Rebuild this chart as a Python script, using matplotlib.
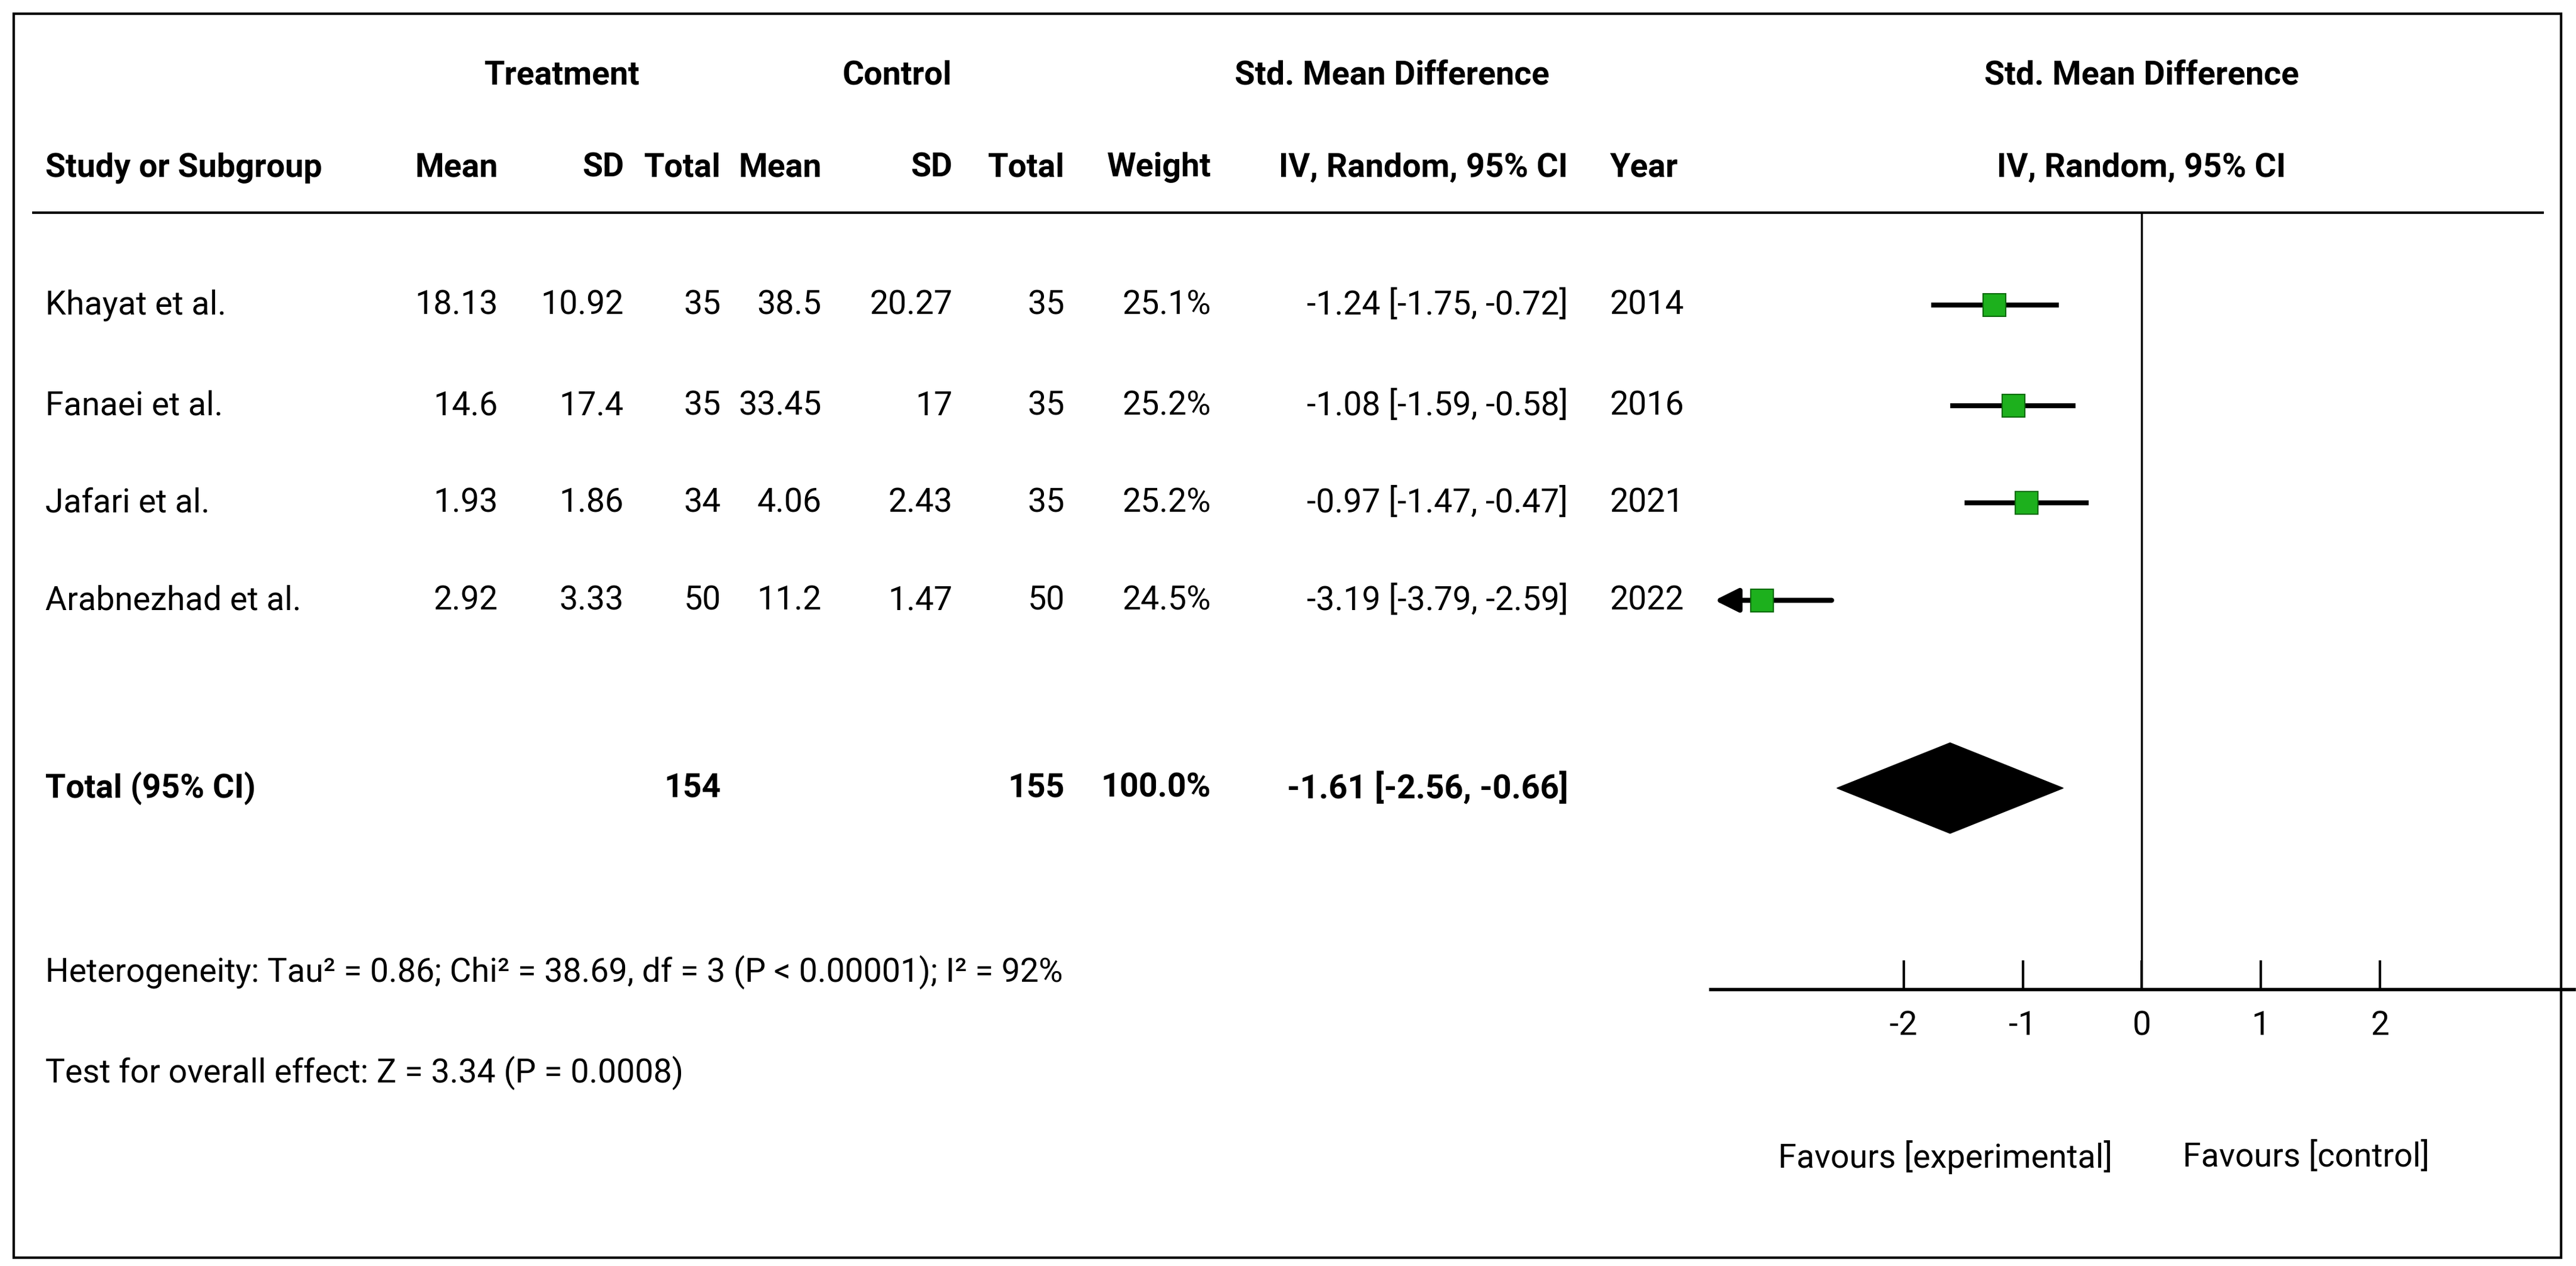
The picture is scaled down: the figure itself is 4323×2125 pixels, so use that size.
import matplotlib
matplotlib.use("Agg")
import matplotlib.pyplot as plt
from matplotlib.patches import Polygon, Rectangle

studies = ["Khayat et al.", "Fanaei et al.", "Jafari et al.", "Arabnezhad et al."]
t_mean = ["18.13", "14.6", "1.93", "2.92"]
t_sd = ["10.92", "17.4", "1.86", "3.33"]
t_n = ["35", "35", "34", "50"]
c_mean = ["38.5", "33.45", "4.06", "11.2"]
c_sd = ["20.27", "17", "2.43", "1.47"]
c_n = ["35", "35", "35", "50"]
weights = [25.1, 25.2, 25.2, 24.5]
smd = [-1.24, -1.08, -0.97, -3.19]
lo = [-1.75, -1.59, -1.47, -3.79]
hi = [-0.72, -0.58, -0.47, -2.59]
years = ["2014", "2016", "2021", "2022"]
total = (-1.61, -2.56, -0.66)
ticks = [-2, -1, 0, 1, 2]

FAM = ["Liberation Sans Narrow", "Roboto", "DejaVu Sans"]
fs = 40

fig = plt.figure(figsize=(43.23, 21.25), dpi=100)
W, H = 1536, 755
ax = fig.add_axes([0, 0, 1, 1])
ax.set_xlim(0, W); ax.set_ylim(H, 0); ax.axis("off")
ax.add_patch(Rectangle((8, 8), 1519, 742, fill=False, lw=3, ec="black"))

def t(x, y, s, ha="left", bold=False):
    ax.text(x, y, s, ha=ha, va="center", fontsize=fs, family=FAM,
            fontweight="bold" if bold else "normal")

t(335, 45, "Treatment", "center", True)
t(535, 45, "Control", "center", True)
t(830, 45, "Std. Mean Difference", "center", True)
t(1277, 45, "Std. Mean Difference", "center", True)
hdr = [(27, "Study or Subgroup", "left"), (297, "Mean", "right"), (372, "SD", "right"),
       (430, "Total", "right"), (490, "Mean", "right"), (568, "SD", "right"),
       (635, "Total", "right"), (722, "Weight", "right"), (935, "IV, Random, 95% CI", "right"),
       (960, "Year", "left")]
for x, s, ha in hdr:
    t(x, 100, s, ha, True)
t(1277, 100, "IV, Random, 95% CI", "center", True)
ax.plot([20, 1516], [127, 127], color="black", lw=3)

rows_y = [182, 242, 300, 358]
for i, y in enumerate(rows_y):
    t(27, y, studies[i])
    t(297, y, t_mean[i], "right"); t(372, y, t_sd[i], "right"); t(430, y, t_n[i], "right")
    t(490, y, c_mean[i], "right"); t(568, y, c_sd[i], "right"); t(635, y, c_n[i], "right")
    t(722, y, f"{weights[i]:.1f}%", "right")
    t(935, y, f"{smd[i]:.2f} [{lo[i]:.2f}, {hi[i]:.2f}]", "right")
    t(960, y, years[i])

ty = 470
t(27, ty, "Total (95% CI)", bold=True)
t(430, ty, str(sum(int(v) for v in t_n)), "right", True)
t(635, ty, str(sum(int(v) for v in c_n)), "right", True)
t(722, ty, "100.0%", "right", True)
t(935, ty, f"{total[0]:.2f} [{total[1]:.2f}, {total[2]:.2f}]", "right", True)
t(27, 580, "Heterogeneity: Tau² = 0.86; Chi² = 38.69, df = 3 (P < 0.00001); I² = 92%")
t(27, 640, "Test for overall effect: Z = 3.34 (P = 0.0008)")

# forest axes
x0, x1, y0, y1 = 1020, 1535, 127, 590
fa = fig.add_axes([x0 / W, 1 - y1 / H, (x1 - x0) / W, (y1 - y0) / H])
fa.set_xlim(-3.62, 3.63); fa.set_ylim(y1, y0)
fa.patch.set_alpha(0)
for s in ["top", "right", "left"]:
    fa.spines[s].set_visible(False)
fa.spines["bottom"].set_linewidth(4)
fa.set_yticks([])
fa.set_xticks(ticks)
fa.set_xticklabels([str(v) for v in ticks], fontsize=fs, family=FAM)
fa.tick_params(axis="x", direction="in", length=35, width=3, pad=25)
fa.axvline(0, color="black", lw=2.5)
xmin = -3.62
for i, y in enumerate(rows_y):
    if lo[i] < xmin:
        fa.annotate("", xy=(xmin + 0.02, y), xytext=(hi[i], y),
                    arrowprops=dict(arrowstyle="-|>", lw=6, color="black", mutation_scale=60))
    else:
        fa.plot([lo[i], hi[i]], [y, y], color="black", lw=6)
    fa.plot(smd[i], y, marker="s", ms=28, color="#1db01d", mec="#0a6a0a", mew=1.5, zorder=3)
fa.add_patch(Polygon([(total[1], ty), (total[0], ty - 27), (total[2], ty), (total[0], ty + 27)],
                     closed=True, color="black"))
t(1160, 690, "Favours [experimental]", "center")
t(1375, 690, "Favours [control]", "center")

fig.savefig("out.png", dpi=100)
